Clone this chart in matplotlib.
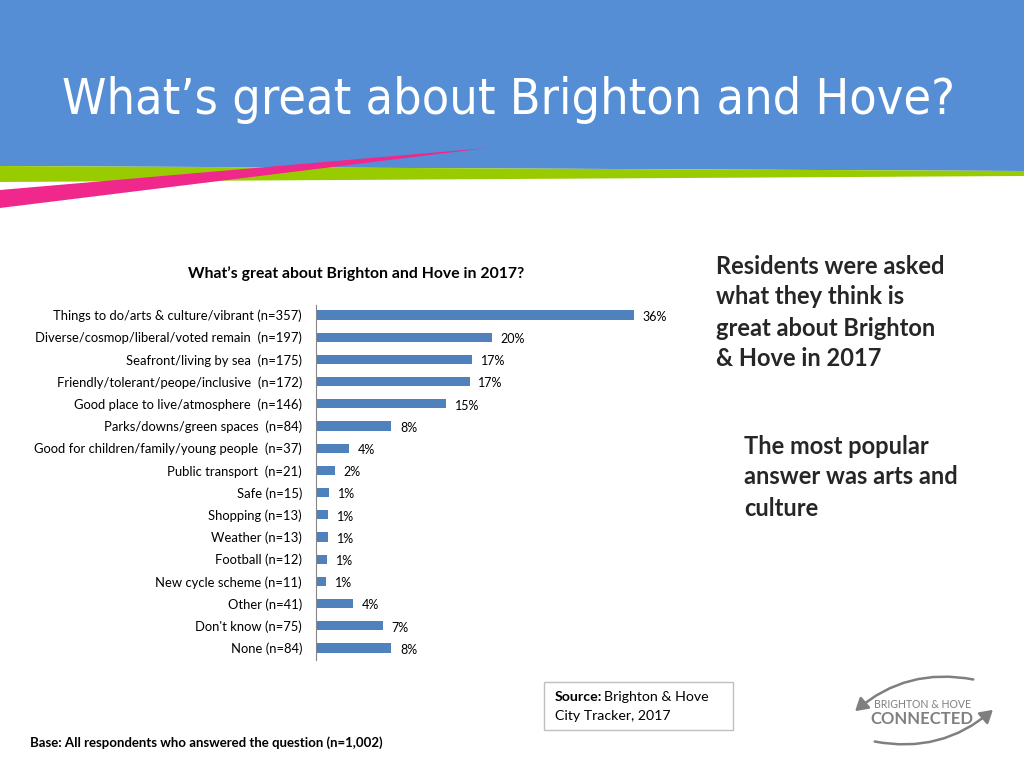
import matplotlib
matplotlib.use("Agg")
import matplotlib.pyplot as plt
from matplotlib.patches import Polygon, Rectangle, FancyArrowPatch

# survey answers, top to bottom
labels = [
    "Things to do/arts & culture/vibrant (n=357)",
    "Diverse/cosmop/liberal/voted remain  (n=197)",
    "Seafront/living by sea  (n=175)",
    "Friendly/tolerant/peope/inclusive  (n=172)",
    "Good place to live/atmosphere  (n=146)",
    "Parks/downs/green spaces  (n=84)",
    "Good for children/family/young people  (n=37)",
    "Public transport  (n=21)",
    "Safe (n=15)",
    "Shopping (n=13)",
    "Weather (n=13)",
    "Football (n=12)",
    "New cycle scheme (n=11)",
    "Other (n=41)",
    "Don't know (n=75)",
    "None (n=84)",
]
values = [35.6, 19.7, 17.5, 17.2, 14.6, 8.4, 3.7, 2.1, 1.5, 1.3, 1.3, 1.2, 1.1, 4.1, 7.5, 8.4]
shown = ["36%", "20%", "17%", "17%", "15%", "8%", "4%", "2%", "1%", "1%", "1%", "1%", "1%", "4%", "7%", "8%"]

FONT = "Lato"
W, H = 1024, 768

fig = plt.figure(figsize=(W / 100, H / 100), dpi=100)

# background / decoration layer in pixel coordinates
bg = fig.add_axes([0, 0, 1, 1], zorder=0)
bg.set_xlim(0, W)
bg.set_ylim(H, 0)
bg.axis("off")

bg.add_patch(Polygon([(0, 0), (W, 0), (W, 171), (0, 166)], closed=True, color="#558ED5", lw=0))
bg.add_patch(Polygon([(0, 166), (W, 171), (W, 176), (0, 182)], closed=True, color="#99CC00", lw=0))
bg.add_patch(Polygon([(0, 190), (487, 148), (0, 208)], closed=True, color="#F0288C", lw=0))

bg.text(62, 100, "What\u2019s great about Brighton and Hove?", color="white",
        fontsize=36, family="DejaVu Sans", fontstretch="condensed", va="center", ha="left")

bg.text(356, 274, "What\u2019s great about Brighton and Hove in 2017?", fontsize=11.3,
        fontweight="bold", family=FONT, ha="center", va="center", color="#000000")

right1 = ["Residents were asked", "what they think is", "great about Brighton", "& Hove in 2017"]
for i, s in enumerate(right1):
    bg.text(716, 266 + i * 31, s, fontsize=17, fontweight="bold", family=FONT,
            va="center", ha="left", color="#262626")
right2 = ["The most popular", "answer was arts and", "culture"]
for i, s in enumerate(right2):
    bg.text(744, 446 + i * 31, s, fontsize=17, fontweight="bold", family=FONT,
            va="center", ha="left", color="#262626")

# source box
bg.add_patch(Rectangle((544, 682), 189, 48, fill=False, ec="#BFBFBF", lw=1))
bg.text(555, 697, "Source:", fontsize=10.2, fontweight="bold", family=FONT, va="center")
bg.text(604, 697, "Brighton & Hove", fontsize=10.2, family=FONT, va="center")
bg.text(555, 716, "City Tracker, 2017", fontsize=10.2, family=FONT, va="center")

bg.text(30, 743, "Base: All respondents who answered the question (n=1,002)", fontsize=9.5,
        fontweight="bold", family=FONT, va="center")

# logo
grey = "#7F7F7F"
bg.text(922, 704, "BRIGHTON & HOVE", fontsize=7.6, family=FONT, color=grey, ha="center", va="center")
bg.text(922, 719, "CONNECTED", fontsize=12, fontweight="bold", family=FONT, color=grey,
        ha="center", va="center")
bg.add_patch(FancyArrowPatch((976, 680), (853, 713), connectionstyle="arc3,rad=0.25",
                             arrowstyle="-|>,head_length=5,head_width=3", color=grey, lw=1.8,
                             mutation_scale=1.5))
bg.add_patch(FancyArrowPatch((872, 741), (995, 708), connectionstyle="arc3,rad=0.25",
                             arrowstyle="-|>,head_length=5,head_width=3", color=grey, lw=1.8,
                             mutation_scale=1.5))

# chart
ax = fig.add_axes([316 / W, 1 - 660 / H, 357 / W, 355 / H], zorder=1)
ax.patch.set_alpha(0)
y = list(range(len(labels)))
ax.barh(y, values, height=0.42, color="#4F81BD")
for yi, v, s in zip(y, values, shown):
    ax.text(v + 1.0, yi + 0.08, s, fontsize=9, family=FONT, va="center", ha="left")
ax.set_xlim(0, 40)
ax.set_ylim(15.54, -0.45)
ax.set_yticks(y)
ax.set_yticklabels(labels, fontsize=9.4, family=FONT)
ax.tick_params(axis="y", length=0, pad=10)
ax.set_xticks([])
for side in ["top", "right", "bottom"]:
    ax.spines[side].set_visible(False)
ax.spines["left"].set_color("#868686")
ax.spines["left"].set_linewidth(0.8)

fig.savefig("out.png", dpi=100)
